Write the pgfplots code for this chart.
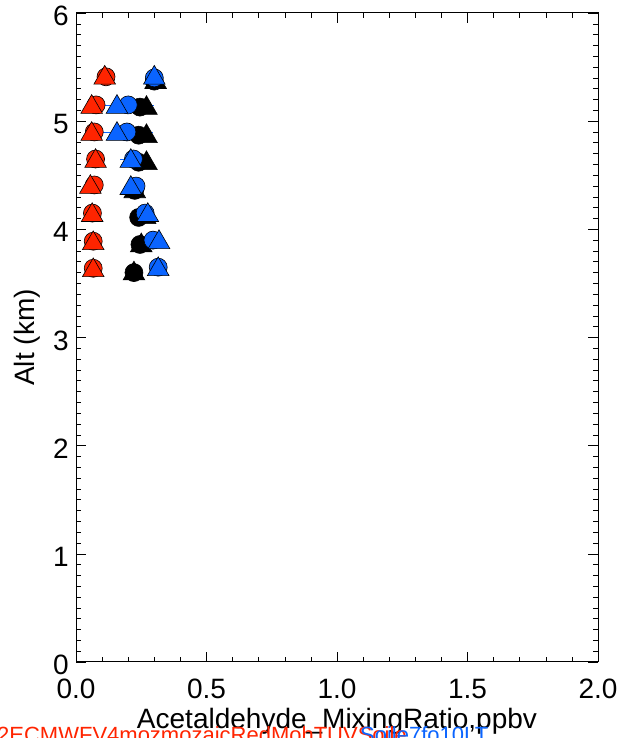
\documentclass[border=0pt]{standalone}
\usepackage{fontspec}
\setmainfont{Liberation Sans}
\usepackage{pgfplots}
\pgfplotsset{compat=1.18}
\definecolor{myred}{RGB}{255,36,0}
\definecolor{myblue}{RGB}{10,100,255}
\begin{document}
\begin{tikzpicture}
\useasboundingbox (0,0) rectangle (621pt,738pt);
\begin{axis}[
  at={(76pt,76pt)}, anchor=south west,
  scale only axis, width=522pt, height=649pt,
  xmin=0, xmax=2, ymin=0, ymax=6,
  xtick={0,0.5,1,1.5,2}, minor x tick num=4,
  ytick={0,1,2,3,4,5,6}, minor y tick num=9,
  tick align=inside, major tick length=10pt, minor tick length=5pt,
  every tick/.style={black, line width=0.6pt},
  axis line style={line width=1pt},
  /pgf/number format/assume math mode=true,
  tick label style={font=\fontsize{28}{28}\selectfont},
  x tick label style={/pgf/number format/fixed, /pgf/number format/fixed zerofill, /pgf/number format/precision=1, inner sep=0pt, anchor=north, yshift=-17pt},
  y tick label style={inner sep=0pt, anchor=east, xshift=-7pt, yshift=-3pt},
  xlabel={Acetaldehyde\_MixingRatio,ppbv},
  ylabel={Alt (km)},
  xlabel style={at={(axis description cs:0.5,-0.1032)}, anchor=base, inner sep=0pt, font=\fontsize{28}{28}\selectfont},
  ylabel style={at={(axis description cs:-0.094,0.5)}, anchor=center, rotate=0, inner sep=0pt, font=\fontsize{28}{28}\selectfont},
  clip=false,
]
% black circles
\addplot[only marks, mark=*, mark size=9pt, color=black, mark options={fill=black, draw=black, line width=0.6pt},
  error bars/.cd, x dir=both, x explicit, error mark=none, error bar style={black, line width=0.8pt}]
  coordinates {
  (0.300,5.37) +- (0.015,0)
  (0.245,5.13) +- (0.045,0)
  (0.240,4.87) +- (0.045,0)
  (0.240,4.62) +- (0.020,0)
  (0.225,4.36) +- (0.015,0)
  (0.240,4.11) +- (0.015,0)
  (0.245,3.86) +- (0.015,0)
  (0.222,3.60) +- (0.010,0)
  };
% black triangles
\addplot[only marks, mark=triangle*, mark size=12.5pt, color=black, mark options={fill=black, draw=black, line width=0.6pt}]
  coordinates {
  (0.305,5.36) (0.270,5.12) (0.270,4.86) (0.270,4.61)
  (0.225,4.35) (0.265,4.11) (0.250,3.85) (0.222,3.59)
  };
% blue circles
\addplot[only marks, mark=*, mark size=9pt, color=myblue, mark options={fill=myblue, draw=black, line width=0.6pt},
  error bars/.cd, x dir=both, x explicit, error mark=none, error bar style={myblue, line width=0.8pt}]
  coordinates {
  (0.300,5.40) +- (0.015,0)
  (0.200,5.15) +- (0.100,0)
  (0.195,4.90) +- (0.100,0)
  (0.220,4.65) +- (0.050,0)
  (0.230,4.40) +- (0.030,0)
  (0.265,4.15) +- (0.015,0)
  (0.295,3.90) +- (0.015,0)
  (0.315,3.65) +- (0.015,0)
  };
% blue triangles
\addplot[only marks, mark=triangle*, mark size=12.5pt, color=myblue, mark options={fill=myblue, draw=black, line width=0.6pt}]
  coordinates {
  (0.300,5.40) (0.157,5.13) (0.157,4.88) (0.210,4.63)
  (0.210,4.38) (0.275,4.13) (0.318,3.88) (0.315,3.63)
  };
% red circles
\addplot[only marks, mark=*, mark size=9pt, color=myred, mark options={fill=myred, draw=black, line width=0.6pt},
  error bars/.cd, x dir=both, x explicit, error mark=none, error bar style={myred, line width=0.8pt}]
  coordinates {
  (0.115,5.41) +- (0.015,0)
  (0.077,5.15) +- (0.025,0)
  (0.070,4.90) +- (0.020,0)
  (0.075,4.65) +- (0.035,0)
  (0.070,4.41) +- (0.015,0)
  (0.063,4.15) +- (0.015,0)
  (0.066,3.89) +- (0.015,0)
  (0.066,3.64) +- (0.015,0)
  };
% red triangles
\addplot[only marks, mark=triangle*, mark size=12.5pt, color=myred, mark options={fill=myred, draw=black, line width=0.6pt}]
  coordinates {
  (0.110,5.40) (0.060,5.13) (0.060,4.88) (0.075,4.63)
  (0.055,4.39) (0.062,4.13) (0.066,3.87) (0.066,3.62)
  };
\end{axis}
\node[anchor=base west, inner sep=0pt, text=myred, font=\fontsize{22}{22}\selectfont] at (-3pt,-5pt) {2ECMWFV4mozmozaicRedMohTUVSoile};
\node[anchor=base west, inner sep=0pt, text=myblue, font=\fontsize{22}{22}\selectfont] at (360pt,-5pt) {Soile7fo10LT};
\end{tikzpicture}
\end{document}
